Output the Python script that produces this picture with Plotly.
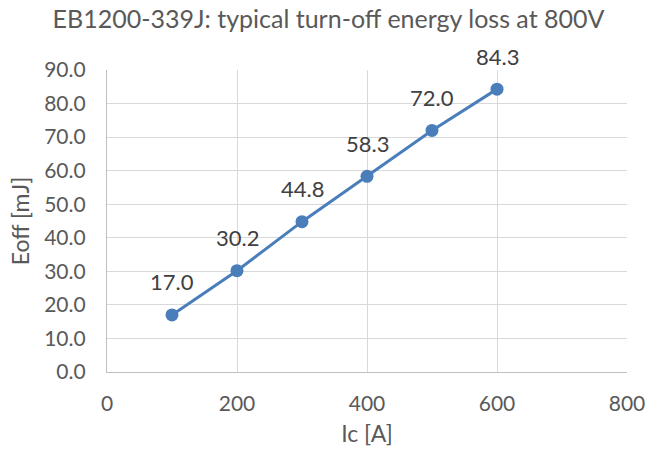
import plotly.graph_objects as go

ic = [100, 200, 300, 400, 500, 600]
eoff = [17.0, 30.2, 44.8, 58.3, 72.0, 84.3]
x_ticks = [0, 200, 400, 600, 800]
y_ticks = [0, 10, 20, 30, 40, 50, 60, 70, 80, 90]

blue = "#4A7EBB"
grid = "#D9D9D9"
txt = "#595959"
font = "Lato"

fig = go.Figure()
fig.add_trace(go.Scatter(
    x=ic, y=eoff, mode="lines+markers",
    line=dict(color=blue, width=3),
    marker=dict(color=blue, size=13),
    showlegend=False, hoverinfo="skip",
))
for xv, yv in zip(ic, eoff):
    fig.add_annotation(x=xv, y=yv, text=f"{yv:.1f}", showarrow=False,
                       yshift=33, font=dict(family=font, size=22, color="#404040"))

fig.update_layout(
    width=657, height=455,
    margin=dict(l=107, r=21, t=70, b=83),
    paper_bgcolor="white", plot_bgcolor="white",
    title=dict(text="EB1200-339J: typical turn-off energy loss at 800V",
               x=0.5, xanchor="center", y=1 - 19 / 455, yanchor="middle",
               font=dict(family=font, size=25, color=txt)),
    xaxis=dict(range=[0, 800], tickvals=x_ticks, ticktext=[str(v) for v in x_ticks],
               showgrid=True, gridcolor=grid, gridwidth=1.3,
               showline=True, linecolor="#BFBFBF", linewidth=1.3, mirror=False,
               zeroline=False, ticks="outside", ticklen=13, tickcolor="rgba(0,0,0,0)",
               tickfont=dict(family=font, size=21, color=txt),
               title=dict(text="Ic [A]", font=dict(family=font, size=23, color=txt), standoff=11)),
    yaxis=dict(range=[0, 90], tickvals=y_ticks, ticktext=[f"{v:.1f}" for v in y_ticks],
               showgrid=True, gridcolor=grid, gridwidth=1.3,
               showline=True, linecolor="#BFBFBF", linewidth=1.3,
               zeroline=False, ticks="outside", ticklen=16, tickcolor="rgba(0,0,0,0)",
               tickfont=dict(family=font, size=21, color=txt),
               title=dict(text="Eoff [mJ]", font=dict(family=font, size=23, color=txt), standoff=8)),
)
fig.write_html("out.html")
